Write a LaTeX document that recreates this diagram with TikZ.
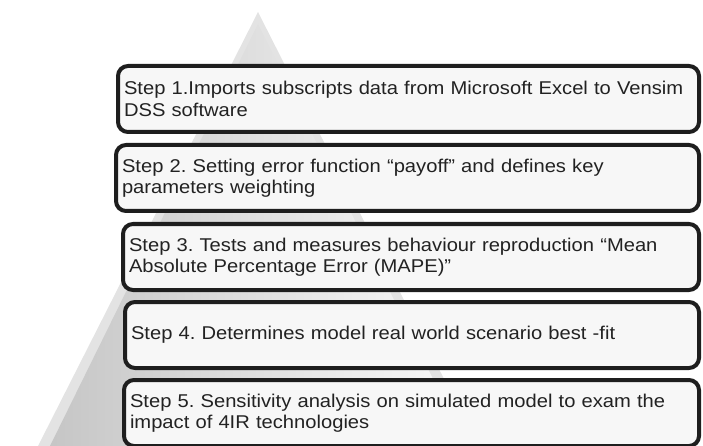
\documentclass[tikz,border=0pt]{standalone}
\usepackage{fontspec}
\setmainfont{Liberation Sans}[FakeStretch=1.09]
\usepackage{xcolor}
\definecolor{boxline}{HTML}{1E1E1E}
\definecolor{boxfill}{HTML}{F7F7F7}
\definecolor{steptext}{HTML}{222222}
\tikzset{stepbox/.style={draw=boxline,fill=boxfill,line width=4pt,rounded corners=10pt,
    anchor=north west,inner xsep=6pt,minimum height=66pt,align=left,text=steptext,
    font=\fontsize{18.5}{21.5}\selectfont\frenchspacing}}

\begin{document}
\begin{tikzpicture}[x=1pt,y=-1pt]
        \useasboundingbox (0,0) rectangle (703,446);
        % pyramid behind the steps
        \fill[gray!22] (258,12) -- (38,446) -- (478,446) -- cycle;
        \shade[left color=gray!45,right color=gray!4] (258,24) -- (50,446) -- (466,446) -- cycle;
        % the five steps
        \foreach \n/\x/\y/\t in {1/116/64/{Step 1.Imports subscripts data from Microsoft Excel to Vensim\\DSS software},
                                 2/114/143/{Step 2. Setting error function “payoff” and defines key\\parameters weighting},
                                 3/121/222/{Step 3. Tests and measures behaviour reproduction “Mean\\Absolute Percentage Error (MAPE)”},
                                 4/123/300/{Step 4. Determines model real world scenario best -fit},
                                 5/122/378/{Step 5. Sensitivity analysis on simulated model to exam the\\impact of 4IR technologies}}{
            \pgfmathsetmacro\w{685-\x}
            \node[stepbox,text width=\w pt] (s\n) at (\x,\y) {\t};
        }
    \end{tikzpicture}
\end{document}
